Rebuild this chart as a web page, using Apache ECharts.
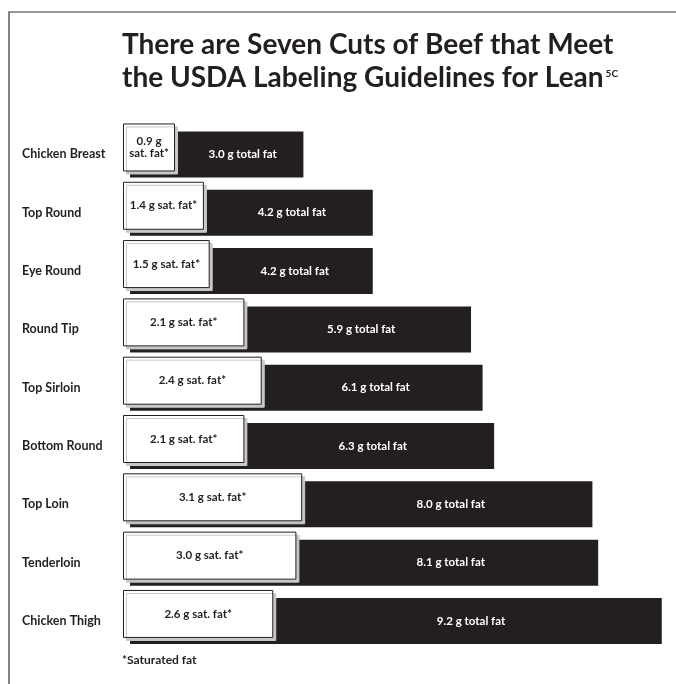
<!DOCTYPE html>
<html>
<head>
<meta charset="utf-8">
<script src="https://cdn.jsdelivr.net/npm/echarts@6/dist/echarts.min.js"></script>
<style>
  html, body { margin: 0; padding: 0; background: #fff; }
  #chart { width: 676px; height: 684px; }
</style>
</head>
<body>
<div id="chart"></div>
<script>
var cuts = ['Chicken Breast', 'Top Round', 'Eye Round', 'Round Tip', 'Top Sirloin',
            'Bottom Round', 'Top Loin', 'Tenderloin', 'Chicken Thigh'];
var satFat = [0.9, 1.4, 1.5, 2.1, 2.4, 2.1, 3.1, 3.0, 2.6];
var totalFat = [3.0, 4.2, 4.2, 5.9, 6.1, 6.3, 8.0, 8.1, 9.2];

var ink = '#231f20';
var font = 'Lato';

// rest of the bar after the white box, only used to place the total label
var restFat = [];
for (var i = 0; i < totalFat.length; i++) {
    restFat.push(+(totalFat[i] - satFat[i]).toFixed(1));
}

var chart = echarts.init(document.getElementById('chart'));

function catAxis(idx, show) {
    return {
        type: 'category',
        gridIndex: idx,
        data: cuts,
        inverse: true,
        axisLine: { show: false },
        axisTick: { show: false },
        axisLabel: {
            show: show,
            align: 'left',
            margin: 108,
            color: ink,
            fontFamily: font,
            fontWeight: 'bold',
            fontSize: 12.5
        }
    };
}

function valAxis(idx) {
    return {
        type: 'value',
        gridIndex: idx,
        min: 0,
        max: 10,
        show: false,
        splitLine: { show: false }
    };
}

var option = {
    animation: false,
    backgroundColor: '#fff',
    title: [{
        text: 'There are Seven Cuts of Beef that Meet\nthe USDA Labeling Guidelines for Lean{sup|5C}',
        left: 122,
        top: 28,
        padding: 0,
        textStyle: {
            color: ink,
            fontFamily: font,
            fontWeight: 'bold',
            fontSize: 28,
            lineHeight: 33,
            rich: {
                sup: {
                    color: ink,
                    fontFamily: font,
                    fontWeight: 'bold',
                    fontSize: 10,
                    verticalAlign: 'top',
                    padding: [8, 0, 0, 2]
                }
            }
        }
    }, {
        text: '*Saturated fat',
        left: 122,
        top: 654,
        padding: 0,
        textStyle: {
            color: ink,
            fontFamily: font,
            fontWeight: 'bold',
            fontSize: 12
        }
    }],
    graphic: [{
        type: 'polyline',
        shape: { points: [[9, 684], [9, 12], [676, 12]] },
        style: { stroke: '#333', lineWidth: 1.2, fill: null }
    }],
    grid: [
        { left: 130, top: 125.3, width: 578, height: 524.8, outerBoundsMode: 'none', containLabel: false },
        { left: 123, top: 118.3, width: 578, height: 524.8, outerBoundsMode: 'none', containLabel: false }
    ],
    xAxis: [valAxis(0), valAxis(1)],
    yAxis: [catAxis(0, true), catAxis(1, false)],
    series: [
        {
            name: 'total',
            type: 'bar',
            xAxisIndex: 0,
            yAxisIndex: 0,
            data: totalFat,
            barWidth: 46,
            barGap: '-100%',
            itemStyle: { color: ink }
        },
        {
            name: 'base',
            type: 'bar',
            stack: 'lbl',
            xAxisIndex: 0,
            yAxisIndex: 0,
            data: satFat,
            barWidth: 46,
            itemStyle: { color: 'transparent' }
        },
        {
            name: 'rest',
            type: 'bar',
            stack: 'lbl',
            xAxisIndex: 0,
            yAxisIndex: 0,
            data: restFat,
            barWidth: 46,
            itemStyle: { color: 'transparent' },
            label: {
                show: true,
                position: 'inside',
                color: '#fff',
                fontFamily: font,
                fontWeight: 'bold',
                fontSize: 11.5,
                formatter: function (p) {
                    return totalFat[p.dataIndex].toFixed(1) + ' g total fat';
                }
            }
        },
        {
            name: 'sat',
            type: 'bar',
            xAxisIndex: 1,
            yAxisIndex: 1,
            data: satFat,
            barWidth: 48,
            itemStyle: {
                color: '#fff',
                borderColor: ink,
                borderWidth: 1,
                shadowColor: '#c8c8c8',
                shadowBlur: 0,
                shadowOffsetX: 3,
                shadowOffsetY: 3
            },
            label: {
                show: true,
                position: 'inside',
                color: ink,
                fontFamily: font,
                fontWeight: 'bold',
                fontSize: 11.5,
                lineHeight: 12,
                formatter: function (p) {
                    var v = p.value.toFixed(1) + ' g';
                    return p.value < 1.2 ? v + '\nsat. fat*' : v + ' sat. fat*';
                }
            }
        }
    ]
};

chart.setOption(option);
</script>
</body>
</html>
